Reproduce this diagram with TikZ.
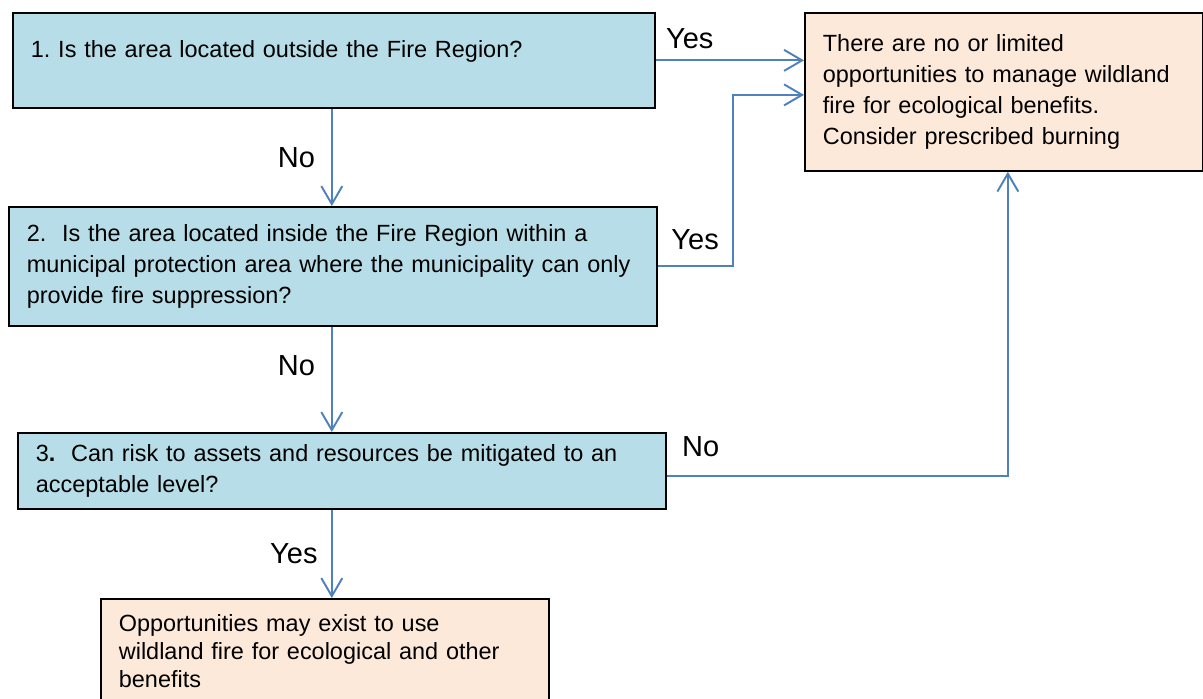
\documentclass[tikz,border=0pt]{standalone}
\usepackage{fontspec}
\setmainfont{Liberation Sans}
\usepackage{xcolor}
\usepackage{tikz}
\usetikzlibrary{arrows.meta}
\usetikzlibrary{positioning}
\definecolor{fragecol}{HTML}{B7DEE8}
\definecolor{ergebniscol}{HTML}{FDE9D9}
\definecolor{pfeilcol}{HTML}{4F81BD}
\tikzset{
  Frage/.style={draw=black, line width=1pt, fill=fragecol, anchor=north west,
    inner xsep=0.36cm, inner ysep=0pt, align=left,
    font=\fontsize{13.35}{17.6}\selectfont}, % Fragekasten
  Ergebnis/.style={Frage, fill=ergebniscol}, % Ergebniskasten
  Pfeil/.style={pfeilcol, line width=1.1pt,
    -{Straight Barb[length=0.36cm,width=0.42cm]}}, % Verbindungen
  Antwort/.style={black, font=\fontsize{16.5}{20}\selectfont} % Ja/Nein
}

\begin{document}
\begin{tikzpicture}[x=0.02cm, y=-0.02cm]
\useasboundingbox (0,0) rectangle (1203,698);

%Kaesten
\node[Frage, text width=12.12cm, minimum height=1.9cm, text depth=0.45cm] (q1) at (12,12)
  {1.\ Is the area located outside the Fire Region?};
\node[Ergebnis, text width=7.24cm, minimum height=3.16cm] (nochance) at (804,12)
  {There are no or limited\\ opportunities to manage wildland\\
   fire for ecological benefits.\\ Consider prescribed burning};
\node[Frage, text width=12.24cm, minimum height=2.38cm] (q2) at (8,206)
  {2.\ \ Is the area located inside the Fire Region within a\\
   \makebox[\linewidth][l]{municipal protection area where the municipality can only}\\
   provide fire suppression?};
\node[Frage, text width=12.24cm, minimum height=1.52cm] (q3) at (17,432)
  {3\textbf{.}\ \ Can risk to assets and resources be mitigated to an\\
   acceptable level?};
\node[Ergebnis, text width=8.24cm, minimum height=2.08cm,
  font=\fontsize{13.35}{15.9}\selectfont] (chance) at (100,598)
  {Opportunities may exist to use\\ wildland fire for ecological and other\\ benefits};

%Pfeile nach unten
\draw[Pfeil] ([xshift=-0.04cm]q1.south) -- node[Antwort, left=0.2cm]{No}
  ([xshift=-0.04cm]q1.south |- q2.north);
\draw[Pfeil] ([xshift=-0.04cm]q1.south |- q2.south) -- node[Antwort, left=0.2cm, pos=0.37]{No}
  ([xshift=-0.04cm]q1.south |- q3.north);
\draw[Pfeil] ([xshift=-0.04cm]q1.south |- q3.south) -- node[Antwort, left=0.15cm]{Yes}
  ([xshift=-0.04cm]q1.south |- chance.north);

%Pfeile nach rechts
\draw[Pfeil] (q1.east) -- node[Antwort, above=0.1cm, pos=0.23]{Yes} (q1.east -| nochance.west);
\draw[Pfeil] (q2.east) -- ++(75,0) node[Antwort, above=0.2cm, pos=0.5]{Yes}
  |- ([yshift=-0.06cm]nochance.west);
\draw[Pfeil] ([yshift=-0.1cm]q3.east) -| node[Antwort, above=0.25cm, pos=0.05]{No}
  ([xshift=0.08cm]nochance.south);

\end{tikzpicture}
\end{document}
